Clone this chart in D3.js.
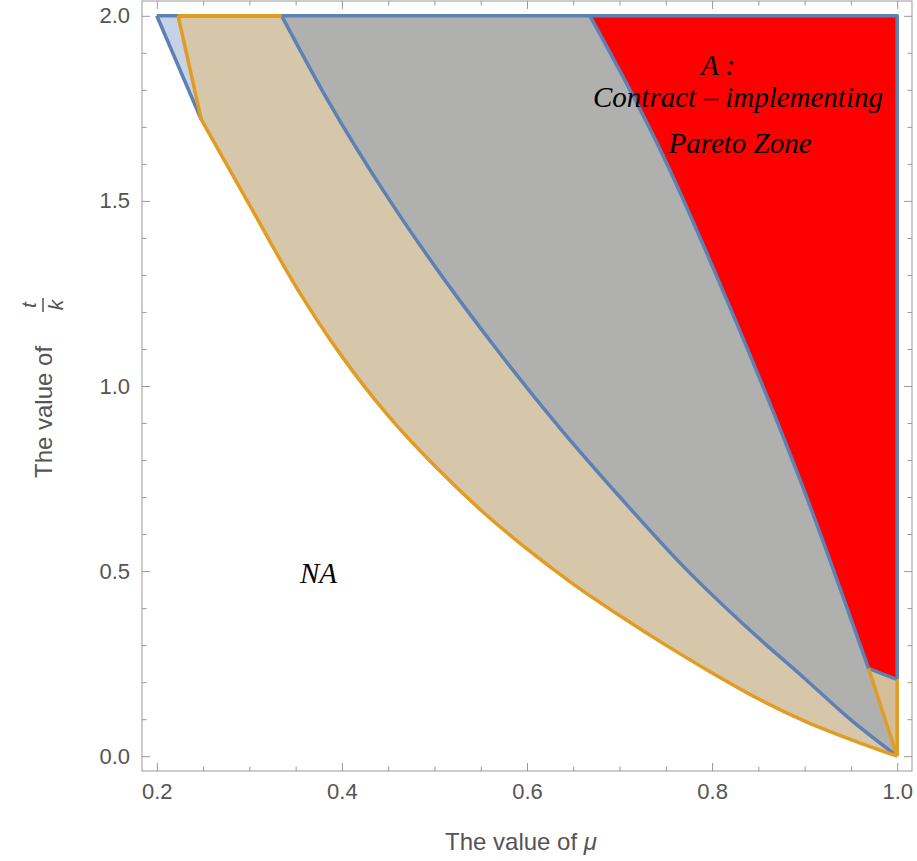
<!DOCTYPE html>
<html>
<head>
<meta charset="utf-8">
<script src="https://cdn.jsdelivr.net/npm/d3@7"></script>
<style>
  body { margin: 0; background: #fff; }
  svg { display: block; }
</style>
</head>
<body>
<svg id="chart" width="917" height="861"></svg>
<script>
'use strict';

// values: [mu, t/k]
let blueLeftEdge = [[0.2, 2.0], [0.248, 1.72]]
let orangeLeftEdge = [[0.223, 2.0], [0.248, 1.72]]
let orangeCurve = [[0.248, 1.72], [0.3, 1.49], [0.35, 1.27], [0.4, 1.08], [0.45, 0.92],
    [0.5, 0.785], [0.55, 0.665], [0.6, 0.56], [0.65, 0.465], [0.7, 0.38], [0.75, 0.3],
    [0.8, 0.225], [0.85, 0.155], [0.9, 0.095], [0.95, 0.045], [1.0, 0.0]]
let blueCurve = [[0.335, 2.0], [0.384, 1.775], [0.452, 1.5], [0.51, 1.29], [0.567, 1.1],
    [0.636, 0.885], [0.704, 0.69], [0.77, 0.51], [0.841, 0.34], [0.9, 0.21], [0.949, 0.1], [1.0, 0.0]]
let redEdge = [[0.668, 2.0], [0.744, 1.638], [0.816, 1.232], [0.902, 0.701], [0.969, 0.237]]
let redBottomRight = [1.0, 0.207]

let xMajorTicks = [0.2, 0.4, 0.6, 0.8, 1.0]
let yMajorTicks = [0.0, 0.5, 1.0, 1.5, 2.0]

let notes = [
    { text: "A :", mu: 0.8064, tk: 1.84 },
    { text: "Contract \u2013 implementing", mu: 0.828, tk: 1.754 },
    { text: "Pareto Zone", mu: 0.8302, tk: 1.629 },
    { text: "NA", mu: 0.3747, tk: 0.468 }
]

let chart = (function() {
    let svg = d3.select("#chart")
    let left = 142, right = 912, top = 1, bottom = 771

    let x = d3.scaleLinear().domain([0.184, 1.016]).range([left, right])
    let y = d3.scaleLinear().domain([-0.04, 2.04]).range([bottom, top])

    let BLUE = "#5e81b5"
    let ORANGE = "#e19c24"

    let smooth = d3.line().x(d => x(d[0])).y(d => y(d[1])).curve(d3.curveMonotoneX)
    let straight = d3.line().x(d => x(d[0])).y(d => y(d[1]))
    let pt = d => x(d[0]) + "," + y(d[1])

    function render() {
        let fills = svg.append("g").attr("class", "fills")

        // tan region, right side later covered by the others
        fills.append("path")
            .attr("d", "M" + pt(orangeLeftEdge[0]) + smooth(orangeCurve).replace(/^M/, "L")
                + "L" + pt([1.0, 2.0]) + "Z")
            .attr("fill", "#d6c7ab")

        fills.append("path")
            .attr("d", "M" + pt(blueLeftEdge[0]) + "L" + pt(orangeLeftEdge[0]) + "L" + pt(blueLeftEdge[1]) + "Z")
            .attr("fill", "#c6d3e6")

        fills.append("path")
            .attr("d", smooth(blueCurve) + "L" + pt([1.0, 2.0]) + "Z")
            .attr("fill", "#b0b1ae")

        fills.append("path")
            .attr("d", smooth(redEdge) + "L" + pt(redBottomRight) + "L" + pt([1.0, 2.0]) + "Z")
            .attr("fill", "#ff0000")

        fills.append("path")
            .attr("d", "M" + pt(redEdge[redEdge.length - 1]) + "L" + pt(redBottomRight) + "L" + pt([1.0, 0.0]) + "Z")
            .attr("fill", "#d3be98")

        let lines = svg.append("g").attr("class", "edges")
            .attr("fill", "none").attr("stroke-width", 3.5).attr("stroke-linejoin", "round")

        let blueEdges = [
            straight([[0.2, 2.0], [1.0, 2.0], redBottomRight]),
            straight(blueLeftEdge),
            smooth(blueCurve),
            smooth(redEdge),
            straight([redEdge[redEdge.length - 1], redBottomRight])
        ]
        let orangeEdges = [
            straight([orangeLeftEdge[0], blueCurve[0]]),
            straight(orangeLeftEdge),
            smooth(orangeCurve),
            straight([redEdge[redEdge.length - 1], [1.0, 0.0]]),
            straight([redBottomRight, [1.0, 0.0]])
        ]
        lines.selectAll(".blue").data(blueEdges).enter().append("path")
            .attr("class", "blue").attr("d", d => d).attr("stroke", BLUE)
        lines.selectAll(".orange").data(orangeEdges).enter().append("path")
            .attr("class", "orange").attr("d", d => d).attr("stroke", ORANGE)

        drawFrame()
        drawNotes()
    }

    function drawFrame() {
        let xMinor = d3.range(0.2, 1.0001, 0.05).filter(v => Math.abs(v * 5 - Math.round(v * 5)) > 1e-6)
        let yMinor = d3.range(0, 2.0001, 0.1).filter(v => Math.abs(v * 2 - Math.round(v * 2)) > 1e-6)

        let axes = [
            { gen: d3.axisBottom(x), at: "translate(0," + bottom + ")", major: xMajorTicks, minor: xMinor, labels: true },
            { gen: d3.axisTop(x), at: "translate(0," + top + ")", major: xMajorTicks, minor: xMinor, labels: false },
            { gen: d3.axisLeft(y), at: "translate(" + left + ",0)", major: yMajorTicks, minor: yMinor, labels: true },
            { gen: d3.axisRight(y), at: "translate(" + right + ",0)", major: yMajorTicks, minor: yMinor, labels: false }
        ]

        axes.forEach(a => {
            let g = svg.append("g").attr("transform", a.at)
            g.call(a.gen.tickValues(a.minor).tickSize(-4.5).tickFormat(""))
            let major = svg.append("g").attr("transform", a.at)
            major.call(a.gen.tickValues(a.major).tickSize(-8).tickPadding(12)
                .tickFormat(a.labels ? d3.format(".1f") : ""))
            ;[g, major].forEach(s => {
                s.select(".domain").remove()
                s.selectAll("line").attr("stroke", "#999")
            })
            major.selectAll("text")
                .attr("fill", "#555")
                .style("font-family", "Liberation Sans, Arial, sans-serif")
                .style("font-size", "22px")
        })

        svg.append("rect")
            .attr("x", left).attr("y", top)
            .attr("width", right - left).attr("height", bottom - top)
            .attr("fill", "none").attr("stroke", "#999").attr("stroke-width", 1)

        let labelFont = "Liberation Sans, Arial, sans-serif"

        let xt = svg.append("text")
            .attr("x", 521).attr("y", 850)
            .attr("text-anchor", "middle")
            .attr("fill", "#555")
            .style("font-family", labelFont).style("font-size", "24px")
        xt.append("tspan").text("The value of ")
        xt.append("tspan").style("font-style", "italic").text("\u03bc")

        let yl = svg.append("g").attr("transform", "translate(44,400) rotate(-90)")
            .attr("fill", "#555")
            .style("font-family", labelFont).style("font-size", "24px")
        yl.append("text").attr("x", -78).attr("y", 8).text("The value of")
        yl.append("text").attr("x", 95).attr("y", -8).attr("text-anchor", "middle")
            .style("font-style", "italic").style("font-size", "21px").text("t")
        yl.append("text").attr("x", 95).attr("y", 19).attr("text-anchor", "middle")
            .style("font-style", "italic").style("font-size", "21px").text("k")
        yl.append("line").attr("x1", 88).attr("x2", 102).attr("y1", -1).attr("y2", -1)
            .attr("stroke", "#555").attr("stroke-width", 1.5)
    }

    function drawNotes() {
        svg.append("g").selectAll("text").data(notes).enter().append("text")
            .attr("x", d => x(d.mu))
            .attr("y", d => y(d.tk))
            .attr("text-anchor", "middle")
            .style("font-family", "Liberation Serif, Times New Roman, serif")
            .style("font-style", "italic")
            .style("font-size", "29px")
            .attr("fill", "#000")
            .text(d => d.text)
    }

    return { render }
}())

chart.render()
</script>
</body>
</html>
